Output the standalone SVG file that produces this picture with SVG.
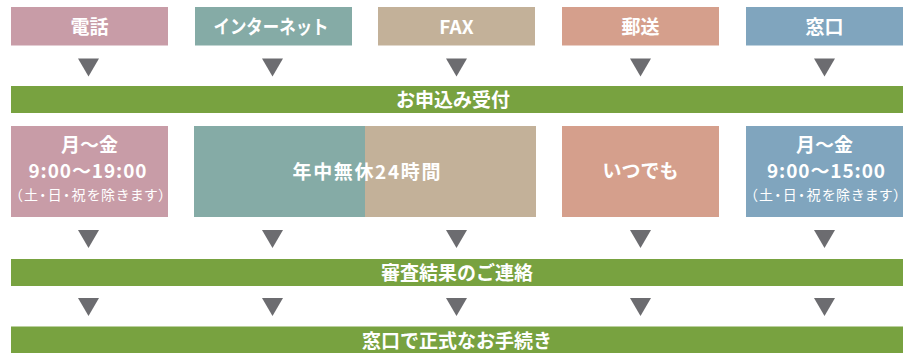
<svg xmlns="http://www.w3.org/2000/svg" xmlns:xlink="http://www.w3.org/1999/xlink" width="909" height="353" viewBox="0 0 909 353">
<style>
text{font-family:"Noto Sans CJK JP","Noto Sans",sans-serif;fill:#fff;text-anchor:middle;}
.b{font-weight:bold;font-size:19px;}
.s{font-size:14px;font-feature-settings:"palt";}
.pink{fill:#c89ca7;}
.teal{fill:#85aba6;}
.tan{fill:#c3b199;}
.salmon{fill:#d59f8c;}
.blue{fill:#80a5be;}
.green{fill:#78a240;}
.tri{fill:#6c6c70;}
</style>
<defs>
<path id="tri" d="M-10.5,0 L10.5,0 L0,18 Z"/>
</defs>
<g id="n-tel"><rect class="pink" x="11" y="7" width="157" height="38.5"/><text class="b" x="89.5" y="33.5">電話</text></g>
<g id="n-net"><rect class="teal" x="195" y="7" width="157" height="38.5"/><text class="b" x="271" y="33.5" textLength="115" lengthAdjust="spacingAndGlyphs">インターネット</text></g>
<g id="n-fax"><rect class="tan" x="378" y="7" width="157" height="38.5"/><text class="b" x="456.5" y="33.5">FAX</text></g>
<g id="n-mail"><rect class="salmon" x="562" y="7" width="157" height="38.5"/><text class="b" x="640.5" y="33.5">郵送</text></g>
<g id="n-window"><rect class="blue" x="746" y="7" width="157" height="38.5"/><text class="b" x="824.5" y="33.5">窓口</text></g>

<g id="n-accept"><rect class="green" x="11" y="86" width="892" height="27"/><text class="b" x="453" y="106.5">お申込み受付</text></g>

<g id="n-tel-hours"><rect class="pink" x="11" y="126" width="157" height="91"/>
<text class="b" x="89.5" y="152">月～金</text>
<text class="b" x="87.5" y="178" textLength="118" lengthAdjust="spacing">9:00～19:00</text>
<text class="s" x="90.5" y="200" textLength="150" lengthAdjust="spacing">（土・日・祝を除きます）</text></g>
<g id="n-netfax-hours"><rect class="teal" x="194" y="126" width="171" height="91"/><rect class="tan" x="365" y="126" width="171" height="91"/>
<text class="b" x="366.5" y="178.5" textLength="148" lengthAdjust="spacing">年中無休24時間</text></g>
<g id="n-mail-hours"><rect class="salmon" x="562" y="126" width="157" height="91"/><text class="b" x="640.5" y="178">いつでも</text></g>
<g id="n-window-hours"><rect class="blue" x="746" y="126" width="157" height="91"/>
<text class="b" x="824.5" y="152">月～金</text>
<text class="b" x="826" y="178" textLength="118" lengthAdjust="spacing">9:00～15:00</text>
<text class="s" x="825.5" y="200" textLength="150" lengthAdjust="spacing">（土・日・祝を除きます）</text></g>

<g id="n-result"><rect class="green" x="11" y="259" width="892" height="27"/><text class="b" x="457" y="280">審査結果のご連絡</text></g>
<g id="n-procedure"><rect class="green" x="11" y="326.5" width="892" height="26.5"/><text class="b" x="457" y="347.5">窓口で正式なお手続き</text></g>

<g id="connectors" class="tri">
<use xlink:href="#tri" x="88.5" y="58.5"/><use xlink:href="#tri" x="272.5" y="58.5"/><use xlink:href="#tri" x="456.5" y="58.5"/><use xlink:href="#tri" x="640.5" y="58.5"/><use xlink:href="#tri" x="824.5" y="58.5"/>
<use xlink:href="#tri" x="88.5" y="230"/><use xlink:href="#tri" x="272.5" y="230"/><use xlink:href="#tri" x="456.5" y="230"/><use xlink:href="#tri" x="640.5" y="230"/><use xlink:href="#tri" x="824.5" y="230"/>
<use xlink:href="#tri" x="88.5" y="298"/><use xlink:href="#tri" x="272.5" y="298"/><use xlink:href="#tri" x="456.5" y="298"/><use xlink:href="#tri" x="640.5" y="298"/><use xlink:href="#tri" x="824.5" y="298"/>
</g>
</svg>
